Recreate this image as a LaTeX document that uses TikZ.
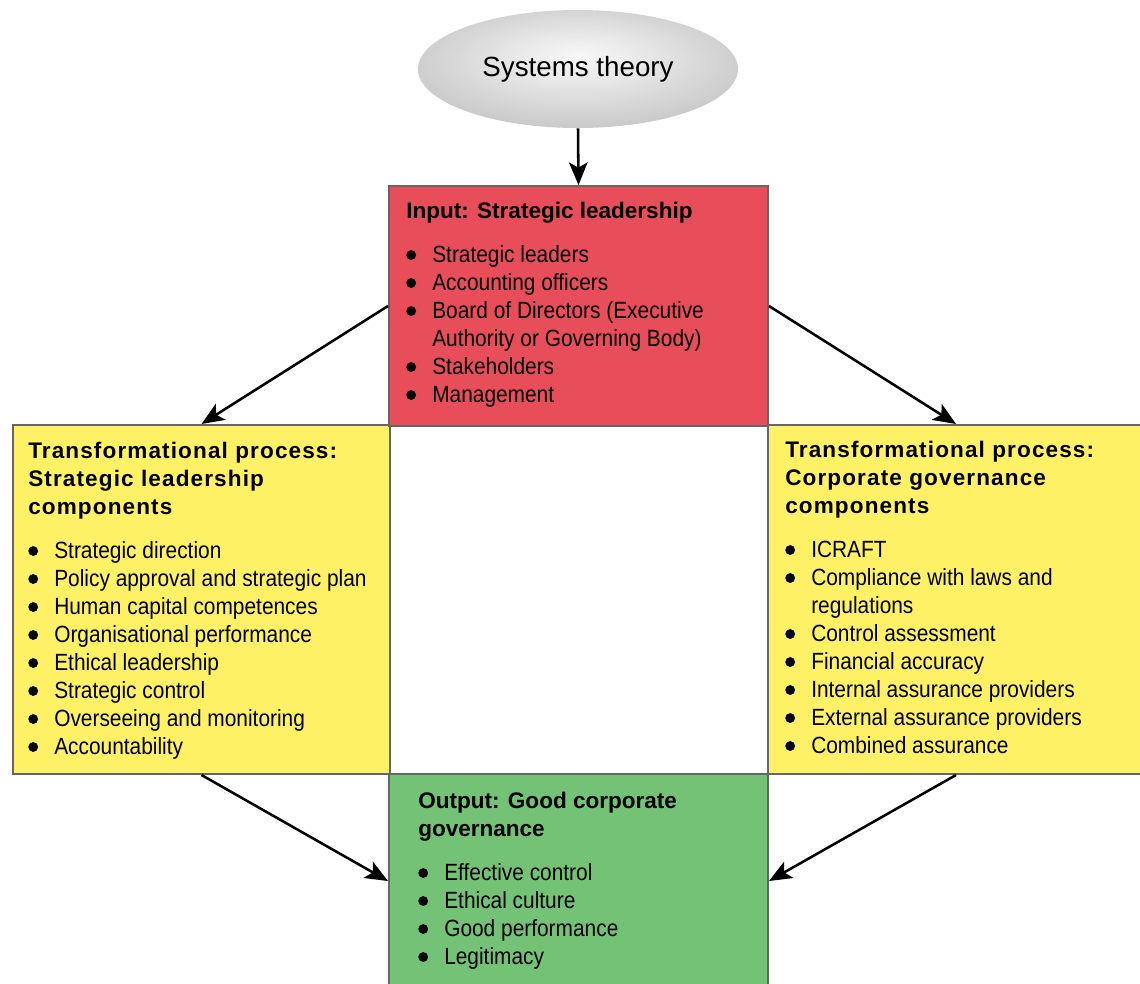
\documentclass[tikz,border=0pt]{standalone}
\usepackage{fontspec}
\setmainfont{Liberation Sans}
\newfontfamily\bodyfont[FakeStretch=0.89]{Liberation Sans}
\newfontfamily\headwide[LetterSpace=5]{Liberation Sans}
\usetikzlibrary{arrows.meta,shapes.geometric}
\definecolor{inred}{HTML}{E84D5A}
\definecolor{procyellow}{HTML}{FEF166}
\definecolor{outgreen}{HTML}{74C275}
\definecolor{bordergray}{HTML}{666666}
\pgfdeclareradialshading{ellsh}{\pgfpoint{0bp}{6bp}}{color(0bp)=(white!97!black); color(10bp)=(white!91!black); color(50bp)=(white!64!black)}
\newcommand\dotmark{\tikz[baseline=0pt]\fill[black] (0pt,5.25pt) circle (3.7pt);}
\newcommand\hd[1]{\hbox{\fontsize{16.9pt}{21pt}\selectfont\bfseries #1}}
\newcommand\hw[1]{\hbox{\headwide\fontsize{16.9pt}{21pt}\selectfont\bfseries #1}}
\newcommand\bu[1]{\hbox{\bodyfont\fontsize{17.6pt}{21pt}\selectfont\makebox[19.5pt][l]{\dotmark}#1}}
\newcommand\cn[1]{\hbox{\bodyfont\fontsize{17.6pt}{21pt}\selectfont\hspace*{19.5pt}#1}}
\newcommand\gap{\vskip 12pt}
\begin{document}
\begin{tikzpicture}[x=0.75pt,y=-0.75pt,
  panel/.style={draw=bordergray, line width=1.5pt, inner sep=0pt, anchor=north west, rectangle},
  txt/.style={anchor=base west, inner sep=0pt},
  arr/.style={-{Stealth[length=17pt,width=14pt,inset=4pt]}, line width=1.9pt, black}]
\useasboundingbox (0,0) rectangle (1140,983);
\fill[white] (0,0) rectangle (1140,983);
% boxes
\node[panel, fill=procyellow, minimum width=282.75pt, minimum height=261.75pt] (lt) at (12,424) {};
\node[panel, fill=procyellow, minimum width=282pt, minimum height=261.75pt] (rt) at (767,424) {};
\node[panel, fill=inred, minimum width=284.25pt, minimum height=180pt] (input) at (388,185) {};
\node[panel, fill=outgreen, minimum width=284.25pt, minimum height=160.5pt] (green) at (388,773) {};
% ellipse
\node[ellipse, shade, shading=ellsh, minimum width=240pt, minimum height=88.5pt, inner sep=0pt] (sys) at (578,69) {\fontsize{20.8pt}{24pt}\selectfont Systems theory};
% texts
\node[txt] (tin) at (406,218) {\vtop{\baselineskip=21pt
  \hd{Input: Strategic leadership}\gap
  \bu{Strategic leaders}
  \bu{Accounting officers}
  \bu{Board of Directors (Executive}
  \cn{Authority or Governing Body)}
  \bu{Stakeholders}
  \bu{Management}}};
\node[txt] (tlt) at (28,458) {\vtop{\baselineskip=21pt
  \hw{Transformational process:}
  \hw{Strategic leadership}
  \hw{components}\gap
  \bu{Strategic direction}
  \bu{Policy approval and strategic plan}
  \bu{Human capital competences}
  \bu{Organisational performance}
  \bu{Ethical leadership}
  \bu{Strategic control}
  \bu{Overseeing and monitoring}
  \bu{Accountability}}};
\node[txt] (trt) at (785,457) {\vtop{\baselineskip=21pt
  \hw{Transformational process:}
  \hw{Corporate governance}
  \hw{components}\gap
  \bu{ICRAFT}
  \bu{Compliance with laws and}
  \cn{regulations}
  \bu{Control assessment}
  \bu{Financial accuracy}
  \bu{Internal assurance providers}
  \bu{External assurance providers}
  \bu{Combined assurance}}};
\node[txt] (tgr) at (418,808) {\vtop{\baselineskip=21pt
  \hd{Output: Good corporate}
  \hd{governance}\gap
  \bu{Effective control}
  \bu{Ethical culture}
  \bu{Good performance}
  \bu{Legitimacy}}};
% connectors
\draw[arr] (sys.south) -- (input.north);
\draw[arr] (input.west) -- (lt.north);
\draw[arr] (input.east) -- (rt.north);
\draw[arr] (lt.south) -- (green.west);
\draw[arr] (rt.south) -- (green.east);
\end{tikzpicture}
\end{document}
